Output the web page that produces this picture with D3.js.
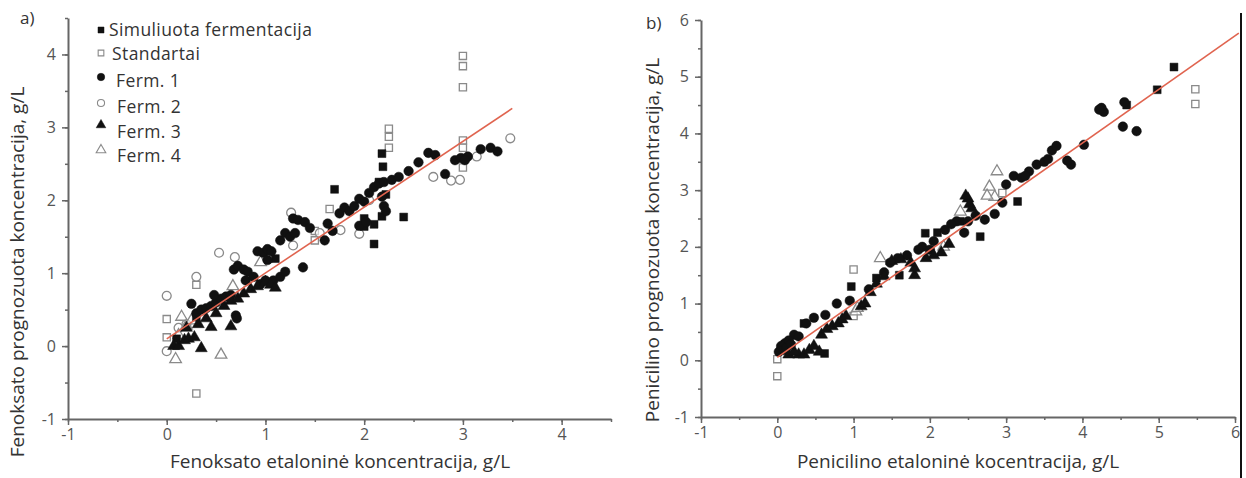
<!DOCTYPE html>
<html>
<head>
<meta charset="utf-8">
<script src="https://cdn.jsdelivr.net/npm/d3@7"></script>
<style>
  body { margin: 0; background: #fff; }
  svg { display: block; }
  .tick text { font-family: "Open Sans", "Noto Sans", sans-serif; font-size: 16px; fill: #555; }
  .ttl { font-family: "Open Sans", "Noto Sans", sans-serif; fill: #333; }
</style>
</head>
<body>
<div id="chart"></div>
<script>
// series names (legend)
var seriesNames = ["Simuliuota fermentacija", "Standartai", "Ferm. 1", "Ferm. 2", "Ferm. 3", "Ferm. 4"];

// panel a) fenoksatas  [etaloninė, prognozuota]
var aSim = [[1.70,2.15],[2.18,2.64],[2.19,2.46],[2.40,1.77],[2.10,1.40],[2.10,1.67],[2.00,1.64],[2.00,1.75],
            [2.18,1.78],[2.22,2.08],[2.15,2.25],[0.30,0.40],[0.10,0.10],[1.10,1.20]];
var aStd = [[3.00,3.98],[3.00,3.84],[3.00,3.55],[2.25,2.98],[2.25,2.87],[2.25,2.72],[3.00,2.82],[3.00,2.72],
            [3.00,2.45],[0.30,-0.65],[0.00,0.37],[0.30,0.84],[1.50,1.58],[1.50,1.45],[1.65,1.88],[0.00,0.12]];
var aF1 = [[0.25,0.58],[0.30,0.45],[0.35,0.50],[0.40,0.52],[0.45,0.55],[0.50,0.60],[0.55,0.65],[0.60,0.68],
           [0.65,0.70],[0.70,0.42],[0.71,0.38],[0.68,1.05],[0.72,1.10],[0.78,1.05],[0.82,1.02],[0.80,0.90],
           [0.88,0.95],[0.92,1.30],[0.98,1.28],[1.02,1.33],[1.06,1.30],[1.02,1.18],[1.08,0.90],[1.15,0.95],
           [1.20,1.02],[1.38,1.08],[1.15,1.45],[1.20,1.55],[1.25,1.50],[1.30,1.55],[1.28,1.75],[1.33,1.73],
           [1.40,1.70],[1.45,1.62],[1.60,1.45],[1.63,1.68],[1.68,1.58],[1.75,1.82],[1.80,1.90],[1.85,1.85],
           [1.90,1.92],[1.95,2.02],[2.00,1.98],[2.05,2.10],[1.95,1.65],[2.02,1.70],[2.10,2.18],[2.15,2.23],
           [2.20,2.25],[2.18,2.05],[2.20,1.92],[2.22,1.85],[2.28,2.28],[2.35,2.32],[2.45,2.40],[2.55,2.52],
           [2.65,2.65],[2.72,2.62],[2.82,2.36],[2.92,2.55],[2.98,2.58],[3.05,2.60],[3.18,2.70],[3.28,2.72],
           [3.35,2.67],[3.02,2.55],[0.95,0.85],[1.00,0.90],[0.48,0.70]];
var aF2 = [[0.00,0.69],[0.00,-0.07],[0.30,0.95],[0.53,1.28],[0.69,1.22],[1.26,1.83],[1.28,1.38],[1.95,1.54],
           [1.76,1.59],[2.70,2.32],[2.88,2.27],[2.97,2.28],[3.14,2.60],[3.48,2.85],[1.04,1.20],[0.12,0.25],
           [0.20,0.30],[1.55,1.55],[2.05,2.00]];
var aF3 = [[0.07,0.00],[0.12,0.00],[0.18,0.08],[0.22,0.10],[0.28,0.12],[0.35,-0.03],[0.32,0.30],[0.40,0.38],
           [0.45,0.26],[0.50,0.45],[0.58,0.55],[0.65,0.27],[0.65,0.62],[0.72,0.65],[0.78,0.72],[0.85,0.78],
           [0.92,0.82],[1.00,0.88],[1.05,0.84],[1.10,0.80],[0.20,0.25]];
var aF4 = [[0.09,-0.18],[0.55,-0.12],[0.15,0.40],[0.67,0.82],[0.12,0.15],[0.20,0.28],[0.25,0.35],[0.95,1.15]];
var aFit = [[0,0.10],[3.5,3.26]];

// panel b) penicilinas
var bSim = [[5.20,5.17],[4.98,4.77],[4.58,4.50],[3.15,2.80],[2.66,2.18],[0.97,1.30],[0.62,0.12],[1.94,2.24],
            [0.35,0.65],[0.05,0.20],[0.10,0.28],[1.30,1.45],[2.40,2.45],[1.60,1.50],[2.10,2.25]];
var bStd = [[5.48,4.78],[5.48,4.52],[0.00,-0.28],[0.00,0.02],[1.00,1.60],[1.00,0.78],[2.95,2.95]];
var bF1 = [[4.25,4.45],[4.28,4.38],[4.22,4.42],[4.53,4.12],[4.71,4.04],[4.55,4.55],[4.02,3.80],[3.85,3.45],
           [3.80,3.52],[3.60,3.70],[3.66,3.78],[3.30,3.33],[3.40,3.45],[3.50,3.50],[3.10,3.25],[3.20,3.22],
           [3.00,3.10],[2.95,2.78],[2.85,2.58],[2.72,2.48],[2.60,2.55],[2.50,2.45],[2.45,2.25],[2.35,2.45],
           [2.28,2.40],[0.95,1.05],[0.78,1.00],[0.63,0.80],[0.48,0.75],[0.38,0.65],[0.22,0.45],[0.28,0.42],
           [0.10,0.30],[0.05,0.25],[0.15,0.35],[1.90,2.00],[1.70,1.85],[1.58,1.80],[1.48,1.72],[1.20,1.25],
           [2.05,2.10],[2.20,2.30],[3.55,3.55],[3.25,3.25],[1.85,1.95],[2.00,1.95],[1.40,1.55],
           [0.02,0.15],[0.08,0.18],[0.12,0.22],[0.18,0.28]];
var bF2 = [];
var bF3 = [[0.28,0.10],[0.35,0.10],[0.42,0.18],[0.48,0.25],[0.55,0.15],[0.58,0.45],[0.65,0.55],[0.72,0.60],
           [0.80,0.65],[0.85,0.72],[0.90,0.78],[1.10,0.95],[1.15,1.00],[1.22,1.20],[1.30,1.35],[1.40,1.48],
           [1.80,1.50],[1.80,1.62],[1.75,1.72],[2.05,1.85],[2.15,1.90],[2.50,2.85],[2.52,2.75],[2.55,2.68],
           [2.47,2.90],[1.50,1.75],[1.62,1.78],[0.15,0.10],[0.22,0.15],[2.25,2.05],[1.95,1.80]];
var bF4 = [[1.35,1.80],[2.88,3.33],[2.78,3.06],[2.18,2.00],[2.40,2.62],[1.03,0.86],[2.85,2.88],[2.75,2.90],[1.05,0.92]];
var bFit = [[0,0.05],[6.05,5.77]];

var aTicks = [-1, 0, 1, 2, 3, 4];
var bTicks = [-1, 0, 1, 2, 3, 4, 5, 6];

var W = 1246, H = 478;
var svg = d3.select("#chart").append("svg").attr("width", W).attr("height", H);

var grey = "#8a8a8a", axisCol = "#666";
// marker style per series
var styles = [
  {sym: d3.symbolSquare, size: 62, fill: true},
  {sym: d3.symbolSquare, size: 52, fill: false},
  {sym: d3.symbolCircle, size: 72, fill: true},
  {sym: d3.symbolCircle, size: 62, fill: false},
  {sym: d3.symbolTriangle, size: 62, fill: true},
  {sym: d3.symbolTriangle, size: 58, fill: false}
];

function minorTicks(lo, hi) {
  var t = [];
  for (var v = lo; v <= hi + 1e-9; v += 0.5) t.push(v);
  return t;
}
var fmt = function (d) { return String(d); };

function drawPanel(cfg) {
  var x = d3.scaleLinear().domain(cfg.xDom).range(cfg.xRange);
  var y = d3.scaleLinear().domain(cfg.yDom).range(cfg.yRange);
  var g = svg.append("g");

  // minor ticks
  g.append("g").attr("transform", "translate(0," + cfg.yRange[0] + ")")
    .call(d3.axisBottom(x).tickValues(minorTicks(cfg.xDom[0], cfg.xDom[1])).tickSize(3).tickFormat("").tickSizeOuter(0))
    .call(function (s) { s.select(".domain").remove(); s.selectAll("line").attr("stroke", axisCol).attr("stroke-width", 1.5); });
  g.append("g").attr("transform", "translate(" + cfg.xRange[0] + ",0)")
    .call(d3.axisLeft(y).tickValues(minorTicks(cfg.yDom[0], cfg.yDom[1])).tickSize(3).tickFormat("").tickSizeOuter(0))
    .call(function (s) { s.select(".domain").remove(); s.selectAll("line").attr("stroke", axisCol).attr("stroke-width", 1.5); });

  // major axes
  var xa = g.append("g").attr("transform", "translate(0," + cfg.yRange[0] + ")")
    .call(d3.axisBottom(x).tickValues(cfg.xTicks).tickFormat(fmt).tickSize(6).tickPadding(4).tickSizeOuter(0));
  var ya = g.append("g").attr("transform", "translate(" + cfg.xRange[0] + ",0)")
    .call(d3.axisLeft(y).tickValues(cfg.yTicks).tickFormat(fmt).tickSize(6).tickPadding(6).tickSizeOuter(0));
  [xa, ya].forEach(function (a) {
    a.select(".domain").attr("stroke", axisCol).attr("stroke-width", 2);
    a.selectAll(".tick line").attr("stroke", axisCol).attr("stroke-width", 1.5);
  });

  // points: open markers, then filled
  var order = [1, 3, 5, 0, 2, 4];
  order.forEach(function (i) {
    var st = styles[i];
    g.append("g").selectAll("path")
      .data(cfg.series[i])
      .enter().append("path")
      .attr("d", d3.symbol().type(st.sym).size(st.size))
      .attr("transform", function (d) { return "translate(" + x(d[0]) + "," + y(d[1]) + ")"; })
      .attr("fill", st.fill ? "#111" : "#fff")
      .attr("fill-opacity", st.fill ? 1 : 0.6)
      .attr("stroke", st.fill ? "#111" : grey)
      .attr("stroke-width", st.fill ? 0.5 : 1.3);
  });

  // fitted line
  g.append("path")
    .datum(cfg.fit)
    .attr("d", d3.line().x(function (d) { return x(d[0]); }).y(function (d) { return y(d[1]); }))
    .attr("stroke", "#e0644f").attr("stroke-width", 1.6).attr("fill", "none");

  // labels
  g.append("text").attr("class", "ttl").attr("x", cfg.tag[0]).attr("y", cfg.tag[1])
    .attr("font-size", 17).attr("fill", "#444").text(cfg.tagText);
  g.append("text").attr("class", "ttl").attr("x", cfg.xTitle[0]).attr("y", cfg.xTitle[1])
    .attr("text-anchor", "middle").attr("font-size", 19).text(cfg.xLabel);
  g.append("text").attr("class", "ttl")
    .attr("transform", "translate(" + cfg.yTitle[0] + "," + cfg.yTitle[1] + ") rotate(-90)")
    .attr("text-anchor", "middle").attr("font-size", 19).text(cfg.yLabel);
}

drawPanel({
  xDom: [-1, 4.5], xRange: [68, 611], yDom: [-1, 4.5], yRange: [419, 18],
  xTicks: aTicks, yTicks: aTicks,
  series: [aSim, aStd, aF1, aF2, aF3, aF4], fit: aFit,
  tag: [20, 24], tagText: "a)",
  xTitle: [340, 468], xLabel: "Fenoksato etaloninė koncentracija, g/L",
  yTitle: [24, 272], yLabel: "Fenoksato prognozuota koncentracija, g/L"
});

drawPanel({
  xDom: [-1, 6], xRange: [701, 1235], yDom: [-1, 6], yRange: [417, 20],
  xTicks: bTicks, yTicks: bTicks,
  series: [bSim, bStd, bF1, bF2, bF3, bF4], fit: bFit,
  tag: [646, 29], tagText: "b)",
  xTitle: [958, 468], xLabel: "Penicilino etaloninė kocentracija, g/L",
  yTitle: [659, 240], yLabel: "Penicilino prognozuota koncentracija, g/L"
});

// legend (panel a)
var legY = [30, 53, 77, 103, 125, 150];
var legTextX = [109, 112, 116, 117, 117, 117];
var legTextY = [36, 60, 87, 113, 138, 162];
var legSize = [36, 32, 44, 40, 40, 40];
var leg = svg.append("g");
seriesNames.forEach(function (name, i) {
  var st = styles[i];
  leg.append("path")
    .attr("d", d3.symbol().type(st.sym).size(legSize[i]))
    .attr("transform", "translate(101," + legY[i] + ")")
    .attr("fill", st.fill ? "#111" : "#fff")
    .attr("stroke", st.fill ? "#111" : grey)
    .attr("stroke-width", st.fill ? 0.5 : 1.1);
  leg.append("text").attr("class", "ttl").attr("x", legTextX[i]).attr("y", legTextY[i])
    .attr("font-size", 17.5).attr("letter-spacing", 0.4).attr("fill", "#111").text(name);
});

// right frame edge
svg.append("line").attr("x1", 1241).attr("x2", 1241).attr("y1", 13).attr("y2", H)
  .attr("stroke", "#111").attr("stroke-width", 2);
</script>
</body>
</html>
